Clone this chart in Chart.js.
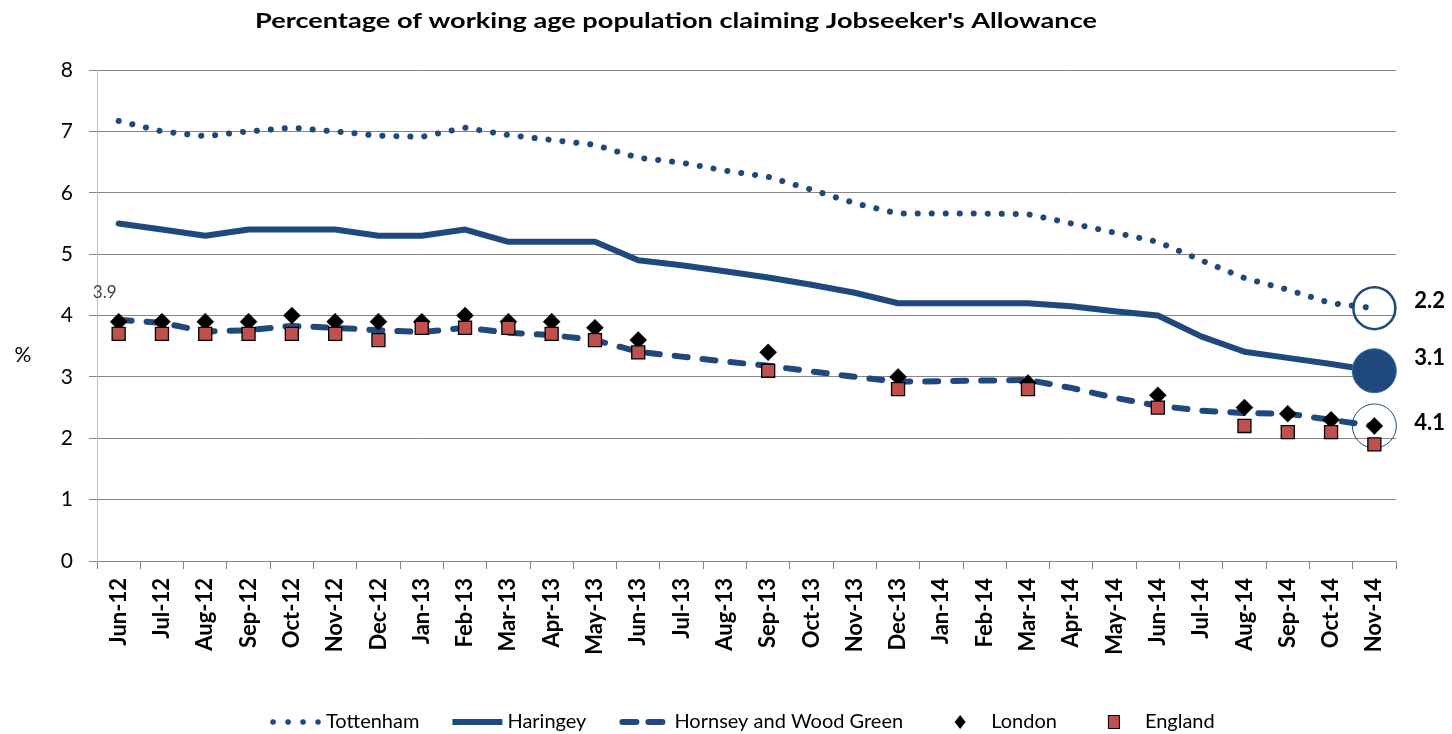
<!DOCTYPE html>
<html>
<head>
<meta charset="utf-8">
<script src="https://cdn.jsdelivr.net/npm/chart.js@4.4.1/dist/chart.umd.min.js"></script>
<style>
html,body{margin:0;padding:0;background:#ffffff;}
#wrap{width:1452px;height:734px;position:relative;}
</style>
</head>
<body>
<div id="wrap"><canvas id="c" width="1452" height="734"></canvas></div>
<script>
// ---- data ----
const chartTitle = "Percentage of working age population claiming Jobseeker's Allowance";
const yAxisLabel = '%';
const months = ['Jun-12','Jul-12','Aug-12','Sep-12','Oct-12','Nov-12','Dec-12','Jan-13','Feb-13','Mar-13','Apr-13','May-13','Jun-13','Jul-13','Aug-13','Sep-13','Oct-13','Nov-13','Dec-13','Jan-14','Feb-14','Mar-14','Apr-14','May-14','Jun-14','Jul-14','Aug-14','Sep-14','Oct-14','Nov-14'];
const tottenham = [7.17,7.0,6.92,7.0,7.06,7.0,6.93,6.91,7.06,6.94,6.86,6.78,6.57,6.49,6.36,6.26,6.05,5.83,5.66,5.66,5.66,5.65,5.5,5.35,5.2,4.9,4.61,4.42,4.2,4.12];
const haringey  = [5.5,5.4,5.3,5.4,5.4,5.4,5.3,5.3,5.4,5.2,5.2,5.2,4.9,4.82,4.72,4.62,4.5,4.37,4.2,4.2,4.2,4.2,4.15,4.07,4.0,3.66,3.41,3.31,3.21,3.1];
const hornsey   = [3.93,3.88,3.74,3.76,3.83,3.8,3.76,3.73,3.8,3.72,3.68,3.6,3.41,3.33,3.25,3.18,3.09,3.0,2.92,2.93,2.94,2.95,2.82,2.66,2.53,2.45,2.41,2.4,2.3,2.2];
const london    = [3.9,3.9,3.9,3.9,4.0,3.9,3.9,3.9,4.0,3.9,3.9,3.8,3.6,null,null,3.4,null,null,3.0,null,null,2.9,null,null,2.7,null,2.5,2.4,2.3,2.2];
const england   = [3.7,3.7,3.7,3.7,3.7,3.7,3.6,3.8,3.8,3.8,3.7,3.6,3.4,null,null,3.1,null,null,2.8,null,null,2.8,null,null,2.5,null,2.2,2.1,2.1,1.9];
const yTickValues = [0,1,2,3,4,5,6,7,8];
const endLabels = ['2.2','3.1','4.1'];
const firstPointLabel = '3.9';

// ---- styles ----
const BLUE = '#1F497D';
const RED = '#C0504D';
const FONT = 'Lato, "Open Sans", "Liberation Sans", sans-serif';
const lastIdx = months.length - 1;

const titlePlugin = {
  id: 'customTitle',
  afterDraw(chart) {
    const ctx = chart.ctx;
    ctx.save();
    ctx.font = 'bold 21px ' + FONT;
    ctx.fillStyle = '#000';
    ctx.textAlign = 'center';
    ctx.textBaseline = 'middle';
    const w = ctx.measureText(chartTitle).width;
    const sx = 842 / w;
    ctx.translate(676, 21);
    ctx.scale(sx, 1);
    ctx.fillText(chartTitle, 0, 0);
    ctx.restore();
  }
};

const textPlugin = {
  id: 'annotTexts',
  afterDatasetsDraw(chart) {
    const ctx = chart.ctx;
    const area = chart.chartArea;
    ctx.save();
    const dys = [-7, -13, -3];
    ctx.font = 'bold 22px ' + FONT;
    ctx.fillStyle = '#000';
    ctx.textAlign = 'left';
    ctx.textBaseline = 'middle';
    [0,1,2].forEach((di, k) => {
      const meta = chart.getDatasetMeta(di);
      const pt = meta.data[meta.data.length - 1];
      ctx.fillText(endLabels[k], pt.x + 40, pt.y + dys[k]);
    });
    const p0 = chart.getDatasetMeta(2).data[0];
    ctx.font = '17px ' + FONT;
    ctx.fillStyle = '#404040';
    ctx.textAlign = 'center';
    ctx.fillText(firstPointLabel, p0.x - 14, p0.y - 27);
    ctx.font = '21px ' + FONT;
    ctx.fillStyle = '#000';
    ctx.fillText(yAxisLabel, area.left - 74, area.top + (area.bottom - area.top) * 0.58);
    ctx.restore();
  }
};

const legendPlugin = {
  id: 'customLegend',
  afterDraw(chart) {
    const ctx = chart.ctx;
    ctx.save();
    ctx.font = '20px ' + FONT;
    ctx.textBaseline = 'middle';
    ctx.textAlign = 'left';
    let x = 271;
    const y = 722;
    const sw = 48, tg = 7, ig = 33;
    chart.data.datasets.forEach((ds, i) => {
      ctx.save();
      if (i < 3) {
        ctx.strokeStyle = BLUE;
        ctx.lineWidth = i === 0 ? 5.5 : 6;
        ctx.lineCap = i === 1 ? 'butt' : 'round';
        if (i === 0) ctx.setLineDash([0.1, 14.9]);
        else if (i === 2) ctx.setLineDash([14, 12]);
        else ctx.setLineDash([]);
        ctx.beginPath();
        if (i === 0) { ctx.moveTo(x + 2, y); ctx.lineTo(x + sw - 1, y); }
        else if (i === 1) { ctx.moveTo(x, y); ctx.lineTo(x + sw + 2, y); }
        else { ctx.moveTo(x + 3, y); ctx.lineTo(x + sw - 3, y); }
        ctx.stroke();
      } else if (i === 3) {
        const cx = x + sw / 2;
        ctx.fillStyle = '#000';
        ctx.beginPath();
        ctx.moveTo(cx, y - 7); ctx.lineTo(cx + 5.5, y); ctx.lineTo(cx, y + 7); ctx.lineTo(cx - 5.5, y);
        ctx.closePath(); ctx.fill();
      } else {
        const cx = x + sw / 2;
        ctx.fillStyle = RED; ctx.strokeStyle = '#000'; ctx.lineWidth = 1;
        ctx.fillRect(cx - 5.5, y - 6.5, 11, 13);
        ctx.strokeRect(cx - 5.5, y - 6.5, 11, 13);
      }
      ctx.restore();
      ctx.fillStyle = '#000';
      ctx.fillText(ds.label, x + sw + tg, y);
      x += sw + tg + ctx.measureText(ds.label).width + ig;
    });
    ctx.restore();
  }
};

const lastOnly = (r) => (ctx) => ctx.dataIndex === lastIdx ? r : 0;

new Chart(document.getElementById('c'), {
  type: 'line',
  data: {
    labels: months,
    datasets: [
      { label: 'Tottenham', data: tottenham, borderColor: BLUE, borderWidth: 6,
        borderDash: [0.1, 13.9], borderCapStyle: 'round', tension: 0, fill: false,
        pointRadius: lastOnly(21), pointBorderWidth: 2.5, pointBorderColor: BLUE,
        pointBackgroundColor: 'rgba(0,0,0,0)', order: 4, clip: false },
      { label: 'Haringey', data: haringey, borderColor: BLUE, borderWidth: 6,
        borderCapStyle: 'round', borderJoinStyle: 'round', tension: 0, fill: false,
        pointRadius: lastOnly(22), pointBorderWidth: 1, pointBorderColor: '#2E6FA8',
        pointBackgroundColor: BLUE, order: 3, clip: false },
      { label: 'Hornsey and Wood Green', data: hornsey, borderColor: BLUE, borderWidth: 6,
        borderDash: [13, 15], borderCapStyle: 'round', tension: 0, fill: false,
        pointRadius: lastOnly(22), pointBorderWidth: 1, pointBorderColor: BLUE,
        pointBackgroundColor: 'rgba(0,0,0,0)', order: 2, clip: false },
      { label: 'London', data: london, showLine: false, pointStyle: 'rectRot',
        pointRadius: 8.5, pointBackgroundColor: '#000', pointBorderColor: '#000',
        pointBorderWidth: 0.5, order: 1, clip: false },
      { label: 'England', data: england, showLine: false, pointStyle: 'rect',
        pointRadius: 9.2, pointBackgroundColor: RED, pointBorderColor: '#000',
        pointBorderWidth: 1.3, order: 0, clip: false }
    ]
  },
  options: {
    responsive: false,
    devicePixelRatio: 1,
    animation: false,
    events: [],
    layout: { padding: { left: 0, right: 56, top: 70, bottom: 0 } },
    plugins: {
      legend: { display: false },
      title: { display: false },
      tooltip: { enabled: false }
    },
    scales: {
      x: {
        type: 'category',
        offset: true,
        grid: { offset: true, drawOnChartArea: false, drawTicks: true, tickLength: 8, color: '#868686', lineWidth: 1 },
        border: { color: '#868686', width: 1 },
        ticks: { autoSkip: false, maxRotation: 90, minRotation: 90, padding: 9, color: '#000',
                 font: { family: FONT, size: 22, weight: 'bold' } },
        afterFit(s) { s.height = 173; }
      },
      y: {
        min: 0, max: 8,
        afterBuildTicks(s) { s.ticks = yTickValues.map(v => ({ value: v })); },
        grid: { color: '#868686', lineWidth: 1, tickLength: 8, drawTicks: true },
        border: { color: '#BFBFBF', width: 1 },
        ticks: { padding: 16, color: '#000', font: { family: FONT, size: 21 } },
        afterFit(s) { s.width = 97; }
      }
    }
  },
  plugins: [titlePlugin, textPlugin, legendPlugin]
});
</script>
</body>
</html>
